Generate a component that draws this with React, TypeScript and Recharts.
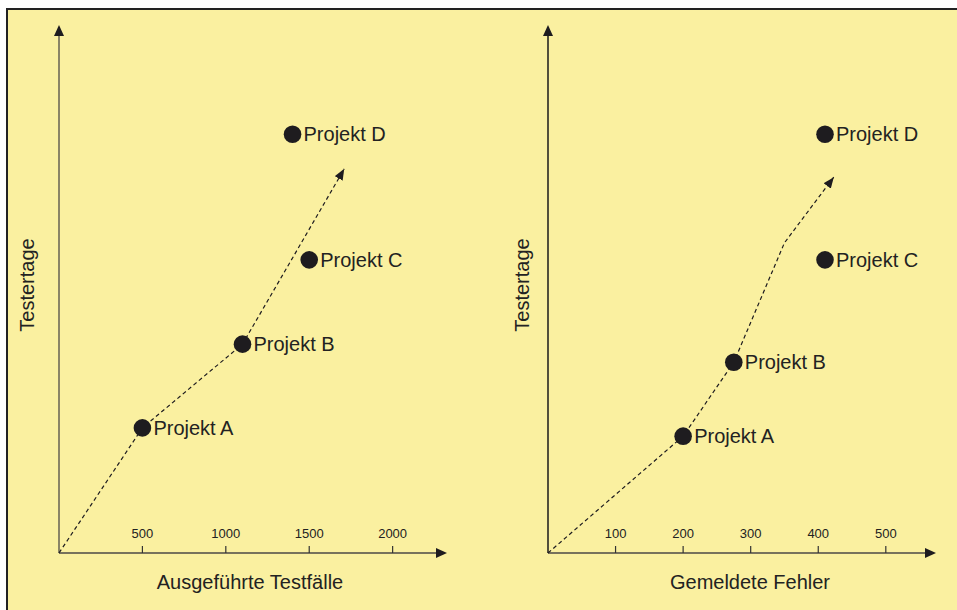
import { ScatterChart, Scatter, XAxis, YAxis } from "recharts";

// Projects (shared names), test days
const projectNames = ["Projekt A", "Projekt B", "Projekt C", "Projekt D"];

// left panel: executed test cases vs test days
const testCases = [500, 1100, 1500, 1400];
const testDaysLeft = [24.2, 40.4, 56.7, 81];
const trendLeftX = [0, 500, 1100, 1710];
const trendLeftY = [0, 24.2, 40.4, 74.3];
const ticksLeft = [500, 1000, 1500, 2000];

// right panel: reported bugs vs test days
const reportedBugs = [200, 275, 410, 410];
const testDaysRight = [22.6, 36.9, 56.7, 81];
const trendRightX = [0, 200, 275, 350, 423];
const trendRightY = [0, 22.6, 36.9, 60, 72.7];
const ticksRight = [100, 200, 300, 400, 500];

const FONT = '"Liberation Sans", Arial, Helvetica, sans-serif';
const INK = "#1e1c1f";

const toPoints = (xs: number[], ys: number[]) =>
  xs.map((x, i) => ({ x, y: ys[i], name: projectNames[i] }));

const ProjectDot = (props: any) => {
  const { cx, cy, payload } = props;
  return (
    <g>
      <circle cx={cx} cy={cy} r={8.8} fill={INK} />
      <text x={cx + 11} y={cy + 7} fontSize={20} fill="#222" fontFamily={FONT}>
        {payload.name}
      </text>
    </g>
  );
};

type PanelProps = {
  left: number;
  width: number;
  right: number;
  xMax: number;
  ticks: number[];
  xLabel: string;
  xLabelShift: number;
  yLabelOffset: number;
  yAxisColor: string;
  yAxisWidth: number;
  points: { x: number; y: number; name: string }[];
  trend: { x: number; y: number; name: string }[];
};

function Panel(p: PanelProps) {
  return (
    <div style={{ position: "absolute", left: p.left, top: 0 }}>
      <ScatterChart
        width={p.width}
        height={610}
        margin={{ top: 36, right: p.right, bottom: 57, left: 58 }}
      >
        <XAxis
          type="number"
          dataKey="x"
          domain={[0, p.xMax]}
          ticks={p.ticks}
          interval={0}
          height={1}
          mirror
          tickSize={7}
          tickMargin={8}
          tickLine={{ stroke: "#333", strokeWidth: 1.2 }}
          tick={{ fontSize: 13, fill: "#222", fontFamily: FONT }}
          axisLine={{ stroke: "#77725c", strokeWidth: 2, markerEnd: "url(#axisArrow)" }}
          label={{
            content: (lp: any) => {
              const vb = lp.viewBox;
              return (
                <text
                  x={vb.x + vb.width / 2 + p.xLabelShift}
                  y={vb.y + 37}
                  textAnchor="middle"
                  fontSize={20}
                  fill="#222"
                  fontFamily={FONT}
                >
                  {p.xLabel}
                </text>
              );
            },
          }}
        />
        <YAxis
          type="number"
          dataKey="y"
          domain={[0, 100]}
          width={1}
          tick={false}
          tickLine={false}
          axisLine={{ stroke: p.yAxisColor, strokeWidth: p.yAxisWidth, markerStart: "url(#axisArrow)" }}
          label={{
            content: (lp: any) => {
              const vb = lp.viewBox;
              const x = vb.x + vb.width + p.yLabelOffset;
              const y = vb.y + vb.height / 2 - 9.5;
              return (
                <text
                  x={x}
                  y={y + 7}
                  transform={`rotate(-90 ${x} ${y})`}
                  textAnchor="middle"
                  fontSize={20}
                  fill="#222"
                  fontFamily={FONT}
                >
                  Testertage
                </text>
              );
            },
          }}
        />
        <Scatter
          data={p.trend}
          isAnimationActive={false}
          fill={INK}
          line={{
            stroke: INK,
            strokeWidth: 1.2,
            strokeDasharray: "4 3",
            markerEnd: "url(#trendArrow)",
          }}
          shape={() => <g />}
        />
        <Scatter data={p.points} isAnimationActive={false} fill={INK} shape={ProjectDot} />
      </ScatterChart>
    </div>
  );
}

export default function App() {
  return (
    <div
      style={{
        position: "absolute",
        left: 0,
        top: 0,
        width: 957,
        height: 610,
        background: "#ffffff",
        overflow: "hidden",
      }}
    >
      <svg width={0} height={0} style={{ position: "absolute" }}>
        <defs>
          <marker
            id="axisArrow"
            viewBox="0 0 11 10"
            refX={0}
            refY={5}
            markerWidth={11}
            markerHeight={10}
            markerUnits="userSpaceOnUse"
            orient="auto-start-reverse"
          >
            <path d="M0,0 L11,5 L0,10 z" fill={INK} />
          </marker>
          <marker
            id="trendArrow"
            viewBox="0 0 11 9"
            refX={11}
            refY={4.5}
            markerWidth={11}
            markerHeight={9}
            markerUnits="userSpaceOnUse"
            orient="auto"
          >
            <path d="M0,0 L11,4.5 L0,9 z" fill={INK} />
          </marker>
        </defs>
      </svg>
      <div
        style={{
          position: "absolute",
          left: 6,
          top: 8,
          right: 0,
          bottom: 0,
          background: "#faf0a0",
          borderTop: "2px solid #222",
          borderLeft: "2px solid #222",
        }}
      />
      <Panel
        left={0}
        width={470}
        right={34}
        xMax={2260}
        ticks={ticksLeft}
        xLabel="Ausgeführte Testfälle"
        xLabelShift={2.5}
        yLabelOffset={-32.5}
        yAxisColor="#8a8466"
        yAxisWidth={2}
        points={toPoints(testCases, testDaysLeft)}
        trend={toPoints(trendLeftX, trendLeftY)}
      />
      <Panel
        left={489}
        width={468}
        right={32}
        xMax={558}
        ticks={ticksRight}
        xLabel="Gemeldete Fehler"
        xLabelShift={13.5}
        yLabelOffset={-26.5}
        yAxisColor="#1a1a1a"
        yAxisWidth={1.5}
        points={toPoints(reportedBugs, testDaysRight)}
        trend={toPoints(trendRightX, trendRightY)}
      />
    </div>
  );
}
